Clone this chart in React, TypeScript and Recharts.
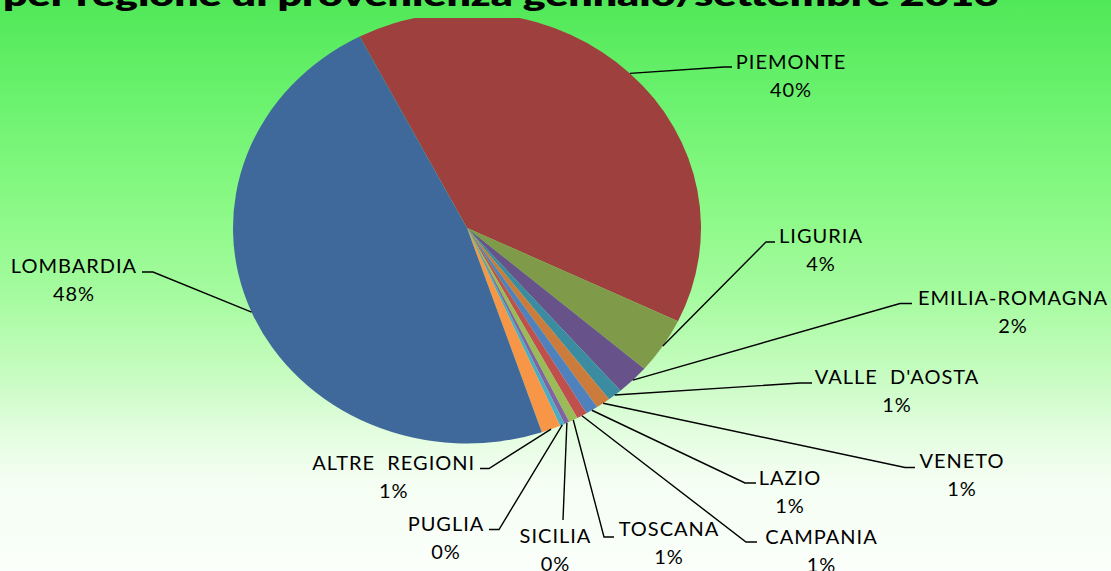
import React from 'react';
import { PieChart, Pie, Cell } from 'recharts';

// ---- data ----
const regions = [
  'PIEMONTE',
  'LIGURIA',
  'EMILIA-ROMAGNA',
  "VALLE  D'AOSTA",
  'VENETO',
  'LAZIO',
  'CAMPANIA',
  'TOSCANA',
  'SICILIA',
  'PUGLIA',
  'ALTRE  REGIONI',
  'LOMBARDIA',
];
const shares = [39.7, 4.2, 2.3, 1.0, 1.0, 0.85, 0.72, 0.62, 0.35, 0.33, 1.33, 47.6];
const percentLabels = ['40%', '4%', '2%', '1%', '1%', '1%', '1%', '1%', '0%', '0%', '1%', '48%'];
const sliceColors = [
  '#9E413E',
  '#7F9A48',
  '#67528A',
  '#3B8CA1',
  '#CB7B3C',
  '#4F81BD',
  '#C0504D',
  '#9BBB59',
  '#8064A2',
  '#4BACC6',
  '#F79646',
  '#40699B',
];
const titleText = 'per regione di provenienza gennaio/settembre 2013';

// ---- layout ----
const W = 1111;
const H = 571;
const CX = 467;
const CY = 228;
const RX = 234;
const RY = 215.5;
const K = RY / RX;
const RADIAN = Math.PI / 180;

// label placement: text centre x, first baseline y, elbow point, stub end x
const labelLayout = [
  { tx: 791, ty: 69, ex: 724, ey: 67, sx: 732 },
  { tx: 821, ty: 243, ex: 766, ey: 242, sx: 775 },
  { tx: 1013, ty: 305, ex: 900, ey: 303.5, sx: 912 },
  { tx: 897, ty: 384, ex: 800, ey: 383, sx: 812 },
  { tx: 962, ty: 468, ex: 905, ey: 467.5, sx: 915 },
  { tx: 790, ty: 485, ex: 745, ey: 483, sx: 756 },
  { tx: 821.5, ty: 544, ex: 746, ey: 542, sx: 757 },
  { tx: 669, ty: 536, ex: 604, ey: 537, sx: 614 },
  { tx: 555.5, ty: 543, ex: 563, ey: 520, sx: 563 },
  { tx: 446, ty: 531, ex: 499, ey: 529.5, sx: 489 },
  { tx: 393.7, ty: 470, ex: 489, ey: 468.5, sx: 480 },
  { tx: 74, ty: 273, ex: 153, ey: 272, sx: 142 },
];

const data = regions.map((name, i) => ({ name, value: shares[i], pct: percentLabels[i] }));

const renderLabel = (props: any) => {
  const { cx, cy, midAngle, index } = props;
  const L = labelLayout[index];
  const x0 = cx + RX * Math.cos(-midAngle * RADIAN);
  const y0 = cy + RY * Math.sin(-midAngle * RADIAN);
  const pts = `${x0},${y0} ${L.ex},${L.ey} ${L.sx},${L.ey}`;
  return (
    <g key={`lbl-${index}`}>
      <polyline points={pts} fill="none" stroke="#000" strokeWidth={1.4} />
      <text
        x={L.tx}
        y={L.ty}
        textAnchor="middle"
        fontFamily="Lato, 'Open Sans', sans-serif"
        fontSize={20}
        letterSpacing={1}
        fill="#000"
        style={{ whiteSpace: 'pre' }}
      >
        {data[index].name}
      </text>
      <text
        x={L.tx}
        y={L.ty + 27.5}
        textAnchor="middle"
        fontFamily="Lato, 'Open Sans', sans-serif"
        fontSize={20}
        letterSpacing={1}
        fill="#000"
      >
        {data[index].pct}
      </text>
    </g>
  );
};

export default function App() {
  return (
    <div
      style={{
        position: 'absolute',
        left: 0,
        top: 0,
        width: W,
        height: H,
        overflow: 'hidden',
        background:
          'linear-gradient(to bottom, #50E858 0%, #6CF26F 18%, #8AF985 36%, #A6FBA0 52%, #C8FCC2 66%, #E4FDE0 76%, #F4FEF2 84%, #FBFFFB 100%)',
      }}
    >
      <div
        style={{
          position: 'absolute',
          left: 0,
          top: 0,
          width: W,
          height: H,
          transform: `scaleY(${K})`,
          transformOrigin: `${CX}px ${CY}px`,
        }}
      >
        <PieChart width={W} height={H} margin={{ top: 0, right: 0, bottom: 0, left: 0 }}>
          <Pie
            data={data}
            dataKey="value"
            nameKey="name"
            cx={CX}
            cy={CY}
            outerRadius={RX}
            startAngle={117.3}
            endAngle={-242.7}
            stroke="none"
            isAnimationActive={false}
          >
            {data.map((d, i) => (
              <Cell key={d.name} fill={sliceColors[i]} />
            ))}
          </Pie>
        </PieChart>
      </div>
      <div style={{ position: 'absolute', left: 0, top: 0, width: W, height: H }}>
        <PieChart width={W} height={H} margin={{ top: 0, right: 0, bottom: 0, left: 0 }}>
          <Pie
            data={data}
            dataKey="value"
            nameKey="name"
            cx={CX}
            cy={CY}
            outerRadius={RX}
            startAngle={117.3}
            endAngle={-242.7}
            stroke="none"
            fill="transparent"
            fillOpacity={0}
            label={renderLabel}
            labelLine={false}
            isAnimationActive={false}
          >
            {data.map((d) => (
              <Cell key={d.name} fill="transparent" />
            ))}
          </Pie>
        </PieChart>
      </div>
      <svg width={W} height={30} style={{ position: 'absolute', left: 0, top: 0 }}>
        <text
          x={3}
          y={6}
          fontFamily="Lato, 'Open Sans', sans-serif"
          fontWeight={800}
          fontSize={31}
          textLength={996}
          lengthAdjust="spacingAndGlyphs"
          fill="#000"
        >
          {titleText}
        </text>
      </svg>
    </div>
  );
}
